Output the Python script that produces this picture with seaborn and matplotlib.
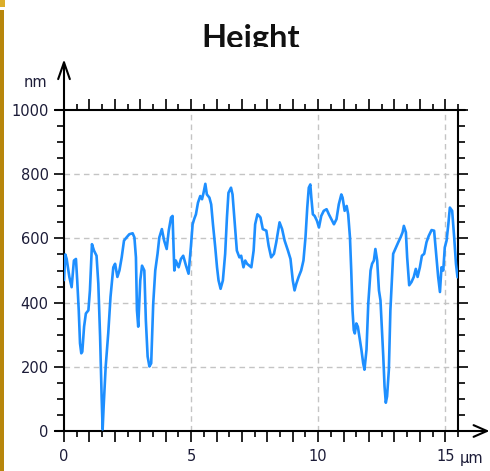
import matplotlib
matplotlib.use("Agg")
import matplotlib.pyplot as plt
from matplotlib.ticker import MultipleLocator, FuncFormatter
from matplotlib.patches import Rectangle
from matplotlib.transforms import Bbox, TransformedBbox, blended_transform_factory
import seaborn as sns
import pandas as pd

# Height profile along the scan line
position_um = [
    0.00, 0.05, 0.105, 0.21, 0.30, 0.39, 0.47, 0.52, 0.58, 0.63, 0.68, 0.72, 0.79, 0.86, 0.96,
    1.02, 1.10, 1.18, 1.28, 1.35, 1.42, 1.48, 1.52, 1.56, 1.64, 1.74, 1.83, 1.94, 2.01, 2.10,
    2.18, 2.27, 2.36, 2.46, 2.57, 2.70, 2.77, 2.83, 2.87, 2.92, 3.00, 3.07, 3.16, 3.22, 3.29,
    3.36, 3.43, 3.51, 3.59, 3.68, 3.75, 3.85, 3.94, 4.04, 4.12, 4.21, 4.27, 4.34, 4.40, 4.51,
    4.60, 4.69, 4.80, 4.90, 4.99, 5.06, 5.12, 5.19, 5.27, 5.36, 5.43, 5.49, 5.56, 5.62, 5.72,
    5.79, 5.86, 5.95, 6.02, 6.08, 6.16, 6.25, 6.34, 6.41, 6.47, 6.57, 6.63, 6.71, 6.80, 6.90,
    6.97, 7.06, 7.13, 7.20, 7.29, 7.37, 7.46, 7.52, 7.61, 7.68, 7.73, 7.82, 7.96, 8.05, 8.15,
    8.26, 8.35, 8.48, 8.58, 8.68, 8.81, 8.91, 9.00, 9.07, 9.14, 9.23, 9.33, 9.42, 9.50, 9.57,
    9.63, 9.69, 9.73, 9.79, 9.86, 9.95, 10.03, 10.12, 10.22, 10.33, 10.42, 10.55, 10.62, 10.72,
    10.81, 10.91, 10.96, 11.04, 11.12, 11.18, 11.25, 11.30, 11.35, 11.40, 11.44, 11.50, 11.56,
    11.64, 11.70, 11.77, 11.82, 11.90, 11.97, 12.06, 12.12, 12.19, 12.25, 12.32, 12.39, 12.45,
    12.49, 12.56, 12.61, 12.66, 12.71, 12.78, 12.84, 12.91, 12.95, 13.06, 13.15, 13.24, 13.32,
    13.37, 13.45, 13.50, 13.58, 13.67, 13.76, 13.84, 13.91, 14.00, 14.08, 14.17, 14.26, 14.35,
    14.46, 14.56, 14.63, 14.72, 14.79, 14.85, 14.92, 14.98, 15.05, 15.12, 15.18, 15.27, 15.35,
    15.42, 15.48,
]
height_nm = [
    470, 550, 536, 480, 448, 531, 536, 469, 376, 273, 242, 247, 325, 366, 376,
    438, 582, 562, 546, 459, 294, 108, 5, 77, 201, 304, 418, 510, 521, 480,
    500, 541, 593, 603, 613, 616, 603, 541, 376, 325, 469, 515, 500, 345, 232,
    201, 211, 397, 500, 552, 603, 629, 593, 567, 624, 665, 670, 500, 531, 510,
    536, 546, 515, 490, 572, 644, 660, 675, 711, 732, 722, 742, 770, 737, 727,
    706, 644, 572, 510, 469, 443, 469, 552, 665, 742, 758, 737, 655, 562, 541,
    546, 510, 531, 521, 515, 510, 562, 644, 675, 670, 665, 629, 624, 577, 541,
    552, 588, 650, 629, 593, 562, 536, 469, 438, 459, 480, 500, 531, 603, 696,
    758, 768, 727, 675, 670, 655, 634, 670, 686, 691, 675, 655, 644, 660,
    706, 737, 727, 686, 701, 675, 603, 500, 376, 314, 304, 335, 325,
    284, 253, 211, 191, 253, 397, 500, 521, 531, 567, 531, 438, 407,
    345, 232, 139, 88, 108, 191, 376, 490, 552, 572, 588, 603, 619,
    639, 619, 541, 454, 464, 480, 505, 480, 510, 546, 552, 588, 608,
    626, 624, 562, 480, 433, 510, 500, 572, 593, 644, 696, 686, 603,
    521, 479,
]

x_tick_labels = ["0", "5", "10", "15"]
y_tick_labels = ["0", "200", "400", "600", "800", "1000"]

sns.set_theme(style="white")
plt.rcParams["font.family"] = ["DejaVu Sans"]

label_color = "#1c1c38"
label_size = 10.5

fig = plt.figure(figsize=(4.9, 4.71), dpi=100)
fig.patch.set_facecolor("white")
ax = fig.add_axes([64 / 490, 40 / 471, 394 / 490, 321 / 471])
ax.set_facecolor("white")

df = pd.DataFrame({"position_um": position_um, "height_nm": height_nm})
sns.lineplot(data=df, x="position_um", y="height_nm", ax=ax, color="#1e8fff",
             lw=1.9, estimator=None, sort=False, zorder=5)

ax.set_xlim(0, 15.5)
ax.set_ylim(0, 1000)
ax.set_xlabel("")
ax.set_ylabel("")

# dashed grid
for gx in (5, 10, 15):
    ax.axvline(gx, color="#c4c4c4", lw=1.0, ls=(0, (4, 3)), zorder=1)
for gy in (200, 400, 600, 800):
    ax.axhline(gy, color="#c4c4c4", lw=1.0, ls=(0, (4, 3)), zorder=1)

# spines
for side in ("top", "bottom", "left"):
    ax.spines[side].set_visible(False)
ax.spines["right"].set_color("black")
ax.spines["right"].set_linewidth(1.5)

# ticks
ax.xaxis.set_major_locator(MultipleLocator(1))
ax.xaxis.set_minor_locator(MultipleLocator(0.5))
ax.xaxis.set_major_formatter(FuncFormatter(
    lambda v, p: x_tick_labels[int(round(v)) // 5] if round(v) % 5 == 0 and 0 <= v <= 15 else ""))
ax.yaxis.set_major_locator(MultipleLocator(200))
ax.yaxis.set_minor_locator(MultipleLocator(50))
ax.yaxis.set_major_formatter(FuncFormatter(
    lambda v, p: y_tick_labels[int(round(v)) // 200] if 0 <= v <= 1000 else ""))

ax.tick_params(axis="x", which="both", direction="out", top=True, bottom=True,
               labeltop=False, width=1.2, color="black", labelsize=label_size,
               labelcolor=label_color, pad=5)
ax.tick_params(axis="x", which="major", length=8)
ax.tick_params(axis="x", which="minor", length=4.5)
ax.tick_params(axis="y", which="both", direction="out", left=True, right=True,
               labelright=False, width=1.2, color="black", labelsize=label_size,
               labelcolor=label_color, pad=4)
ax.tick_params(axis="y", which="major", length=7)
ax.tick_params(axis="y", which="minor", length=5)

# axis lines with arrows
line_kw = dict(color="black", lw=1.5, transform=ax.transAxes, clip_on=False, zorder=6)
ax.plot([-0.023, 1.018], [1, 1], **line_kw)
ax.annotate("", xy=(1.080, 0), xytext=(-0.023, 0), xycoords="axes fraction",
            arrowprops=dict(arrowstyle="->,head_length=0.8,head_width=0.35",
                            lw=1.5, color="black", shrinkA=0, shrinkB=0))
ax.annotate("", xy=(0, 1.158), xytext=(0, 0), xycoords="axes fraction",
            arrowprops=dict(arrowstyle="->,head_length=1.0,head_width=0.35",
                            lw=1.5, color="black", shrinkA=0, shrinkB=0))

# unit labels
ax.text(-0.043, 1.087, "nm", transform=ax.transAxes, ha="right", va="center",
        fontsize=label_size, color=label_color)
trans = blended_transform_factory(ax.transData, ax.transAxes)
ax.text(15.55, -0.085, "µm", transform=trans, ha="left", va="center",
        fontsize=label_size, color=label_color)

# title, cut off at the top band
title = fig.text(251 / 490, 1 - 48 / 471, "Height", ha="center", va="baseline",
                 fontsize=23.5, fontweight="bold", family=["Lato", "DejaVu Sans"],
                 color="#111111", clip_on=True)
title.set_clip_box(TransformedBbox(Bbox([[0, 1 - 47 / 471], [1, 1]]), fig.transFigure))

# gold edge of the slide background
fig.patches.append(Rectangle((0, 0), 4 / 490, (471 - 10) / 471, transform=fig.transFigure,
                             facecolor="#b8860b", edgecolor="none", zorder=0))
fig.patches.append(Rectangle((0, 1 - 7 / 471), 5 / 490, 7 / 471, transform=fig.transFigure,
                             facecolor="#dcae2a", edgecolor="none", zorder=0))

fig.savefig("out.png", dpi=100)
